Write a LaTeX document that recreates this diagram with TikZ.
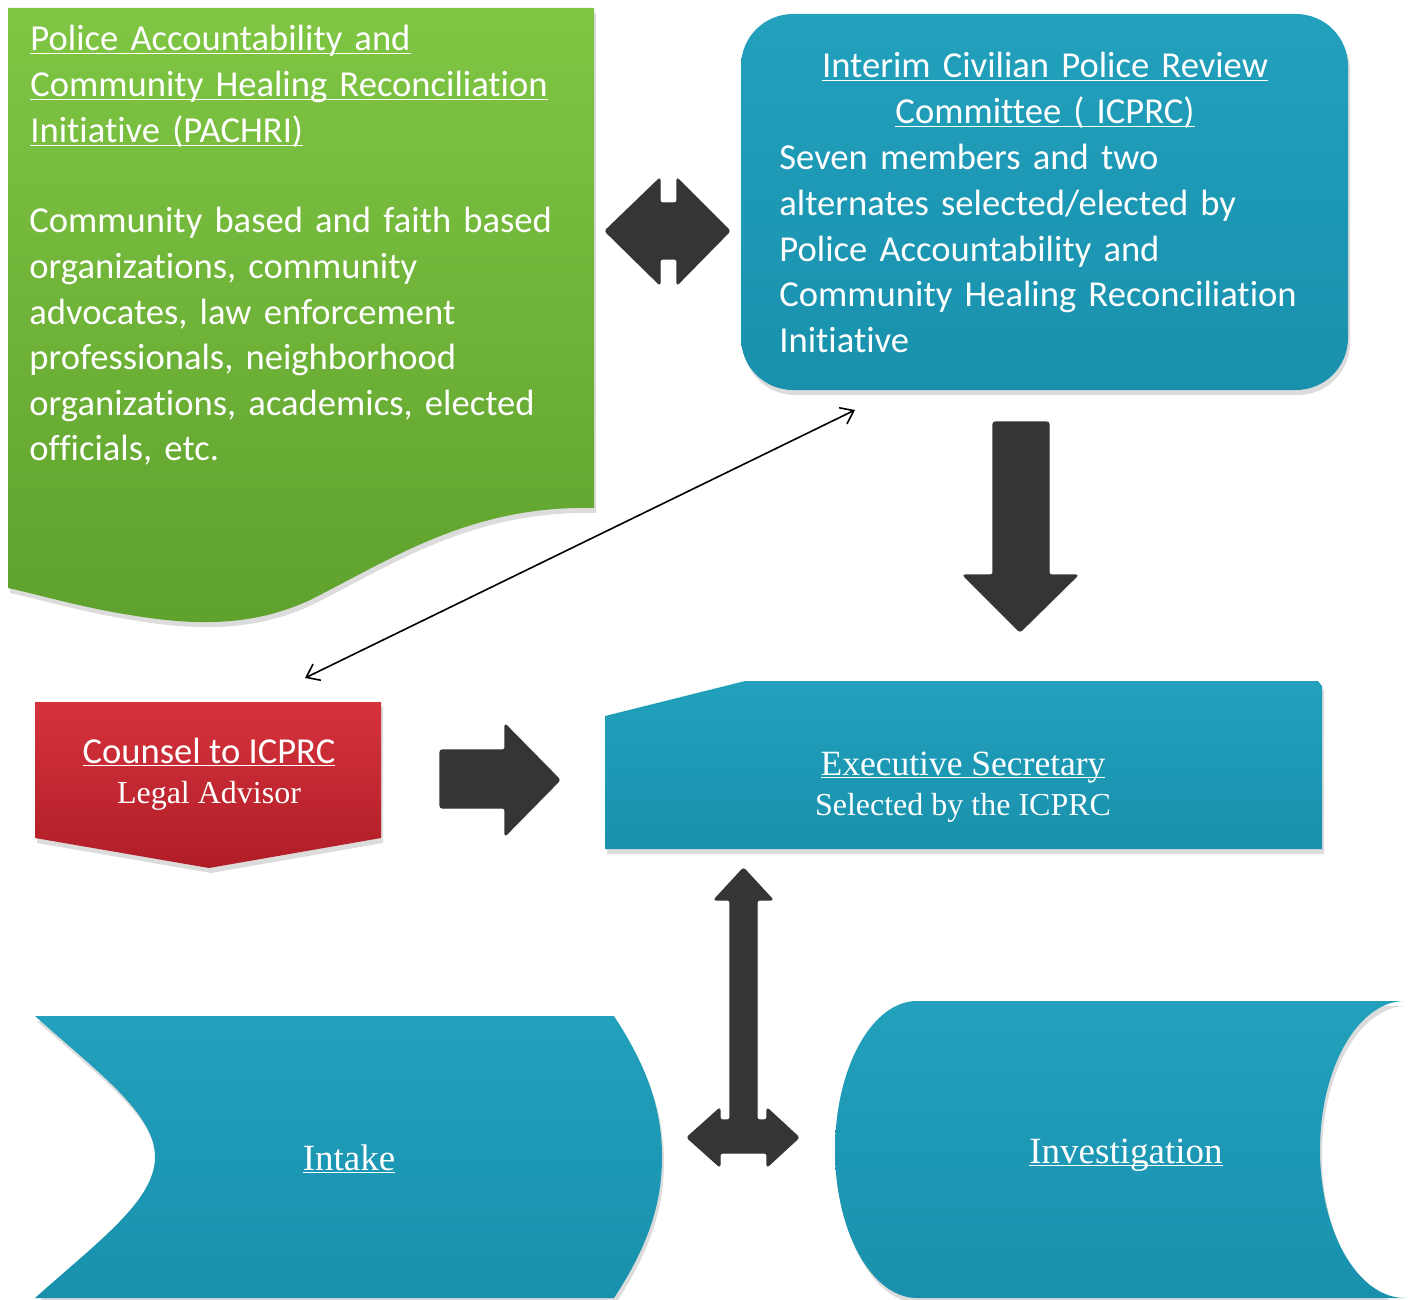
\documentclass[tikz,border=0pt]{standalone}
\usepackage{fontspec}
\setmainfont{Liberation Serif}
\newfontfamily\carlito[Ligatures=NoCommon]{Carlito}
\usetikzlibrary{arrows.meta,shadows}
\newcommand\ulx[1]{\underline{\smash{#1}}}
\definecolor{tealtop}{HTML}{22A0BC}
\definecolor{tealbot}{HTML}{1991AD}
\definecolor{greentop}{HTML}{80C644}
\definecolor{greenbot}{HTML}{5EA12D}
\definecolor{redtop}{HTML}{D5333C}
\definecolor{redbot}{HTML}{B01D27}
\definecolor{arrowgray}{HTML}{353535}
\begin{document}
\begin{tikzpicture}[x=0.5pt,y=-0.5pt,
  boxshadow/.style={drop shadow={shadow xshift=1pt,shadow yshift=-2.5pt,opacity=0.28}},
  tealbox/.style={top color=tealtop,bottom color=tealbot,draw=none,boxshadow},
  greenbox/.style={top color=greentop,bottom color=greenbot,draw=none,boxshadow},
  redbox/.style={top color=redtop,bottom color=redbot,draw=none,boxshadow},
  bigarrow/.style={fill=arrowgray,draw=arrowgray,line width=0.6pt,rounded corners=1.2pt},
  sanstext/.style={text=white,inner sep=0pt,font=\carlito\fontsize{18.3}{22.8}\selectfont},
  serifbig/.style={text=white,inner sep=0pt,font=\fontsize{18.5}{22}\selectfont},
  serifmid/.style={text=white,inner sep=0pt,font=\fontsize{17.75}{21}\selectfont},
  serifsmall/.style={text=white,inner sep=0pt,font=\fontsize{16}{19}\selectfont},
  thinlink/.style={black,line width=0.8pt,{Straight Barb[length=6pt,width=9pt]}-{Straight Barb[length=6pt,width=9pt]}}]
\useasboundingbox (0,0) rectangle (1413,1300);

% PACHRI: document-style box with a wavy bottom edge
\path[greenbox] (8,8) -- (594,8) -- (594,508)
  .. controls (470,505) and (390,560) .. (310,600)
  .. controls (250,628) and (190,625) .. (130,615)
  .. controls (80,607) and (40,595) .. (8,588) -- cycle;
\node[sanstext,text width=290pt,align=left,anchor=base west] (pachriTitle) at (30,51)
  {\ulx{Police Accountability and}\\\ulx{Community Healing Reconciliation}\\\ulx{Initiative (PACHRI)}};
\node[sanstext,text width=290pt,align=left,anchor=base west] (pachriBody) at (29,233)
  {Community based and faith based\\organizations, community\\advocates, law enforcement\\professionals, neighborhood\\organizations, academics, elected\\officials, etc.};

% ICPRC: rounded box
\path[tealbox,rounded corners=26pt] (741,14) rectangle (1348,390);
\node[sanstext,text width=320pt,align=center,anchor=base] (icprcTitle) at (1045,78)
  {\ulx{Interim Civilian Police Review}\\\ulx{Committee ( ICPRC)}};
\node[sanstext,text width=290pt,align=left,anchor=base west] (icprcBody) at (779,170)
  {Seven members and two\\alternates selected/elected by\\Police Accountability and\\Community Healing Reconciliation\\Initiative};

% two-headed arrow between PACHRI and ICPRC
\path[bigarrow] (605,231) -- (660,178) -- (660,203) -- (677,203) -- (677,178)
  -- (730,231) -- (677,285) -- (677,259) -- (660,259) -- (660,285) -- cycle;

% downward arrow from ICPRC to the Executive Secretary
\path[bigarrow] (993,422) -- (1049,422) -- (1049,575) -- (1078,575) -- (1020,632)
  -- (963,575) -- (993,575) -- cycle;

% Counsel: pentagon pointing down
\path[redbox] (35,702) -- (381,702) -- (381,838) -- (209,868) -- (35,838) -- cycle;
\node[sanstext,anchor=base] (counselTitle) at (209,763) {\ulx{Counsel to ICPRC}};
\node[serifsmall,anchor=base] (counselSub) at (209,803) {Legal Advisor};

% arrow from Counsel to Executive Secretary
\path[bigarrow] (440,750) -- (505,750) -- (505,724) -- (560,780) -- (505,836)
  -- (505,808) -- (440,808) -- cycle;

% Executive Secretary: box with a clipped corner
\path[tealbox] (605,716) -- (745,681) -- (1318,681) -- (1322,686) -- (1322,849)
  -- (605,849) -- cycle;
\node[serifmid,anchor=base] (execTitle) at (963,775) {\ulx{Executive Secretary}};
\node[serifsmall,anchor=base] (execSub) at (963,815) {Selected by the ICPRC};

% three-way arrow: up to the Executive Secretary, out to Intake and Investigation
\path[bigarrow] (743.5,868) -- (773,900) -- (757,900) -- (757,1120) -- (767,1120)
  -- (767,1108) -- (799,1137.5) -- (767,1167) -- (767,1153) -- (720,1153)
  -- (720,1167) -- (687,1137.5) -- (720,1108) -- (720,1120) -- (730,1120)
  -- (730,900) -- (714,900) -- cycle;

% Intake
\path[tealbox] (35,1016) -- (614,1016)
  .. controls (648,1068) and (662,1110) .. (662,1157)
  .. controls (662,1204) and (648,1246) .. (614,1298) -- (35,1298)
  .. controls (100,1240) and (155,1200) .. (155,1157)
  .. controls (155,1114) and (100,1074) .. (35,1016) -- cycle;
\node[serifbig,anchor=base] (intake) at (349,1170) {\ulx{Intake}};

% Investigation
\path[tealbox] (917,1001) -- (1405,1001)
  .. controls (1358,1001) and (1320,1068) .. (1320,1150)
  .. controls (1320,1232) and (1358,1298) .. (1405,1298) -- (917,1298)
  .. controls (872,1298) and (835,1232) .. (835,1150)
  .. controls (835,1068) and (872,1001) .. (917,1001) -- cycle;
\node[serifbig,anchor=base] (investigation) at (1126,1163) {\ulx{Investigation}};

% thin two-headed link between Counsel and ICPRC
\coordinate (counselLink) at (305,678);
\coordinate (icprcLink) at (855,410);
\draw[thinlink] (counselLink) -- (icprcLink);
\end{tikzpicture}
\end{document}
